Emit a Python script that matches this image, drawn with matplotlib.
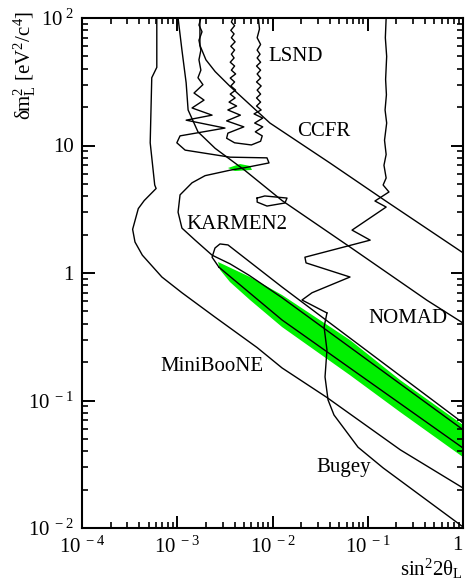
import matplotlib
matplotlib.use('Agg')
import matplotlib.pyplot as plt
from matplotlib.ticker import LogLocator, NullFormatter

plt.rcParams['font.family'] = ['Liberation Serif', 'DejaVu Serif']
plt.rcParams['mathtext.fontset'] = 'custom'
plt.rcParams['mathtext.rm'] = 'Liberation Serif'
plt.rcParams['mathtext.it'] = 'Liberation Serif:italic'

# ---------------- data (sin^2 2theta, delta m^2) ----------------
miniboone_x = [6.1e-4, 6.1e-4, 5.4e-4, 5.2e-4, 5.8e-4, 6.0e-4, 4.5e-4, 3.9e-4, 3.4e-4,
               3.6e-4, 4.3e-4, 6.9e-4, 1.12e-3, 2.5e-3, 6.9e-3, 1.26e-2, 3.7e-2, 0.22, 1.0]
miniboone_y = [100, 41, 34, 10.5, 4.9, 4.6, 3.7, 3.2, 2.2,
               1.75, 1.38, 0.93, 0.70, 0.45, 0.26, 0.18, 0.106, 0.041, 0.0206]

nomad_x = [0.156, 0.153, 0.158, 0.154, 0.157, 0.152, 0.158, 0.150, 0.156, 0.148, 0.156,
           0.145, 0.167, 0.138, 0.119, 0.156, 0.0684, 0.106, 0.0219, 0.0225, 0.0651,
           0.0260, 0.0204, 0.0373]
nomad_y = [100, 70, 50, 33, 25, 19, 15, 11, 8.5, 7.0, 5.56,
           4.90, 4.32, 3.94, 3.67, 3.29, 2.17, 1.81, 1.33, 1.20, 0.93,
           0.70, 0.614, 0.486]

bugey_x = [0.0373, 0.0348, 0.0373, 0.0356, 0.0383, 0.0442, 0.0577, 0.0791, 0.145, 1.0]
bugey_y = [0.486, 0.377, 0.249, 0.153, 0.101, 0.077, 0.059, 0.043, 0.0296, 0.0102]

ccfr_x = [1.73e-3, 1.73e-3, 2.0e-3, 2.5e-3, 3.6e-3, 9.4e-3, 0.040, 0.152, 1.0]
ccfr_y = [100, 61, 47, 38, 29, 15, 7.3, 3.7, 1.44]

mid_x = [1.02e-3, 1.12e-3, 1.24e-3, 1.30e-3, 1.65e-3, 2.5e-3, 5.1e-3, 1.26e-2, 0.065, 0.42, 1.0]
mid_y = [100, 56, 31, 19, 12.8, 9.5, 6.4, 3.7, 1.6, 0.61, 0.405]

karmen_x = [1.77e-3, 1.69e-3, 1.82e-3, 1.69e-3, 1.77e-3, 1.69e-3, 1.77e-3, 1.65e-3, 1.86e-3,
            1.50e-3, 1.91e-3, 1.43e-3, 2.32e-3, 1.24e-3, 3.17e-3, 1.07e-3, 9.9e-4, 1.21e-3,
            3.58e-3, 8.75e-3, 9.19e-3, 5.14e-3, 3.58e-3, 1.96e-3, 1.43e-3, 1.07e-3, 1.02e-3,
            1.12e-3, 1.54e-3, 2.32e-3, 3.58e-3, 5.67e-3, 1.26e-2, 1.0]
karmen_y = [100, 88, 78, 67, 56, 47, 39, 34, 30,
            25.8, 22.7, 19.7, 17.3, 15.8, 13.7, 11.9, 10.5, 9.2,
            8.1, 8.0, 7.3, 6.7, 6.4, 5.8, 5.1, 4.1, 3.0,
            2.25, 1.81, 1.38, 1.18, 0.96, 0.64, 0.059]

lsnd_x = [3.85e-3, 3.7e-3, 4.0e-3, 3.65e-3, 3.95e-3, 3.7e-3, 4.05e-3, 3.65e-3, 4.0e-3,
          3.7e-3, 3.95e-3, 3.6e-3, 4.0e-3, 3.7e-3, 4.1e-3, 3.6e-3, 4.0e-3, 3.65e-3,
          4.1e-3, 3.6e-3, 4.05e-3, 3.5e-3, 4.2e-3, 3.4e-3, 4.6e-3, 3.3e-3, 5.0e-3,
          3.4e-3, 3.3e-3, 4.0e-3, 6.0e-3, 7.5e-3, 7.8e-3, 6.6e-3, 7.9e-3, 6.5e-3,
          7.9e-3, 6.4e-3, 7.6e-3, 6.8e-3, 7.5e-3, 6.8e-3, 7.5e-3, 6.9e-3, 7.6e-3,
          6.8e-3, 7.5e-3, 6.9e-3, 7.5e-3, 6.8e-3, 7.5e-3, 6.9e-3, 7.4e-3, 6.9e-3,
          7.5e-3, 6.9e-3, 7.3e-3, 7.1e-3]
lsnd_y = [100, 93, 87, 80, 75, 70, 65, 60, 56,
          52, 48.6, 45, 42, 39, 36.4, 33.8, 31.5, 29.3,
          27.2, 25.3, 23.6, 21.9, 20.4, 19.0, 17.3, 15.6, 14.0,
          12.5, 11.4, 10.5, 10.1, 10.8, 11.9, 12.8, 14.0, 15.0,
          16.4, 17.7, 19.0, 20.4, 21.9, 23.6, 25.3, 27.2, 29.3,
          31.5, 33.8, 36.4, 39, 42, 45, 48.6, 52, 56,
          62, 70, 82, 100]

loop_x = [6.9e-3, 8.3e-3, 1.42e-2, 1.35e-2, 8.75e-3, 6.9e-3, 6.9e-3]
loop_y = [3.87, 4.02, 3.87, 3.54, 3.35, 3.60, 3.87]

upper_x = [2.74e-3, 2.32e-3, 2.49e-3, 2.81e-3, 3.41e-3, 1.26e-2, 1.0]
upper_y = [1.11, 1.33, 1.57, 1.69, 1.66, 0.776, 0.0667]

inner_x = [2.74e-3, 1.26e-2, 1.0]
inner_y = [1.11, 0.428, 0.0424]

band_x = [2.68e-3, 5.81e-3, 1.26e-2, 0.0651, 0.218, 1.0,
          1.0, 0.218, 0.0651, 1.26e-2, 5.81e-3, 3.58e-3, 2.81e-3]
band_y = [1.22, 0.93, 0.672, 0.298, 0.145, 0.0643,
          0.036, 0.0813, 0.158, 0.377, 0.614, 0.849, 1.06]

blob_x = [3.41e-3, 4.56e-3, 5.81e-3, 6.09e-3, 4.04e-3]
blob_y = [6.66, 7.16, 6.91, 6.43, 6.31]

labels = ['LSND', 'CCFR', 'KARMEN2', 'NOMAD', 'MiniBooNE', 'Bugey']
label_x = [8.97e-3, 1.81e-2, 1.24e-3, 0.1007, 6.59e-4, 2.86e-2]
label_y = [50.3, 12.8, 2.38, 0.436, 0.186, 0.0296]

xticks = [1e-4, 1e-3, 1e-2, 1e-1, 1]
xtick_labels = [r'$\mathrm{10^{\ -4}}$', r'$\mathrm{10^{\ -3}}$', r'$\mathrm{10^{\ -2}}$',
                r'$\mathrm{10^{\ -1}}$', '1']
yticks = [1e-2, 1e-1, 1, 10, 100]
ytick_labels = [r'$\mathrm{10^{\ -2}}$', r'$\mathrm{10^{\ -1}}$', '1', '10',
                r'$\mathrm{10^{\ 2}}$']

# ---------------- figure ----------------
fig = plt.figure(figsize=(4.66, 5.82), dpi=100)
ax = fig.add_axes([82/466, 1-528/582, (463-82)/466, (528-18)/582])
ax.set_xscale('log')
ax.set_yscale('log')
ax.set_xlim(1e-4, 1)
ax.set_ylim(1e-2, 1e2)

green = '#00f000'
ax.fill(band_x, band_y, color=green, lw=0, zorder=1)
ax.fill(blob_x, blob_y, color=green, lw=0, zorder=1)

lw = 1.0
for xs, ys in [(miniboone_x, miniboone_y), (nomad_x, nomad_y), (bugey_x, bugey_y),
               (ccfr_x, ccfr_y), (mid_x, mid_y), (karmen_x, karmen_y),
               (lsnd_x, lsnd_y), (loop_x, loop_y), (upper_x, upper_y),
               (inner_x, inner_y)]:
    ax.plot(xs, ys, color='black', lw=lw, zorder=2, solid_joinstyle='round')

for t, lx, ly in zip(labels, label_x, label_y):
    ax.text(lx, ly, t, fontsize=15, ha='left', va='center', zorder=3)

ax.set_xticks(xticks)
ax.set_xticklabels(xtick_labels)
ax.set_yticks(yticks)
ax.set_yticklabels(ytick_labels)
ax.xaxis.set_minor_locator(LogLocator(base=10, subs=range(2, 10), numticks=20))
ax.yaxis.set_minor_locator(LogLocator(base=10, subs=range(2, 10), numticks=20))
ax.xaxis.set_minor_formatter(NullFormatter())
ax.yaxis.set_minor_formatter(NullFormatter())
ax.tick_params(which='both', direction='in', top=True, right=True, labelsize=15)
ax.tick_params(which='major', length=9, width=1.4, pad=6)
ax.tick_params(which='minor', length=4.5, width=1.2)
for s in ax.spines.values():
    s.set_linewidth(1.5)
ax.get_xticklabels()[-1].set_horizontalalignment('right')

fig.text(25/466, 1-65/582, r'δm$^2_{\mathrm{L}}$ [eV$^2$/c$^4$]', rotation=90,
         ha='center', va='center', fontsize=15)
fig.text(463/466, 1-569/582, r'sin$^2$2θ$_{\mathrm{L}}$', ha='right', va='center',
         fontsize=15)

fig.savefig('out.png', dpi=100)
